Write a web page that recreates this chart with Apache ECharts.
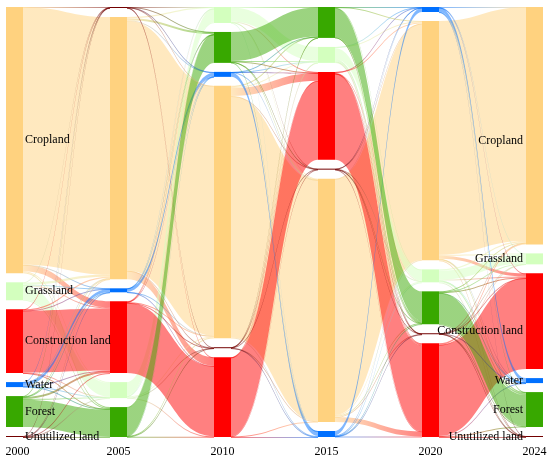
<!DOCTYPE html>
<html>
<head>
<meta charset="utf-8">
<title>Land use transitions 2000-2024</title>
<script src="https://cdn.jsdelivr.net/npm/echarts@6/dist/echarts.min.js"></script>
<style>
    html, body { margin: 0; padding: 0; background: #fff; }
    #chart { width: 550px; height: 461px; }
</style>
</head>
<body>
<div id="chart"></div>
<script>
// land types and years
var categories = ['Cropland', 'Grassland', 'Construction land', 'Water', 'Forest', 'Unutilized land'];
var years = ['2000', '2005', '2010', '2015', '2020', '2024'];

// stacking order of the land types in each year column (top to bottom)
var order2000 = [0, 1, 2, 3, 4, 5];
var order2005 = [5, 0, 3, 2, 1, 4];
var order2010 = [1, 4, 3, 0, 5, 2];
var order2015 = [4, 1, 2, 5, 0, 3];
var order2020 = [3, 0, 1, 4, 5, 2];
var order2024 = [0, 1, 2, 3, 4, 5];

// transition matrices, row = from, column = to
// (Cropland, Grassland, Construction land, Water, Forest, Unutilized land)
var flow2000to2005 = [
    [258.2, 1.0, 6.3, 0.3, 1.0, 0.2],
    [2.3, 13.7, 1.0, 0.2, 0.6, 0.2],
    [1.2, 0.3, 62.1, 0.1, 0.2, 0.1],
    [0.4, 0.2, 0.5, 3.1, 0.7, 0.1],
    [0.6, 0.7, 2.0, 0.2, 27.4, 0.1],
    [0.3, 0.1, 0.1, 0.1, 0.1, 0.3]
];
var flow2005to2010 = [
    [250.3, 1.2, 8.5, 0.8, 2.0, 0.2],
    [1.0, 13.6, 0.4, 0.3, 0.6, 0.1],
    [0.8, 0.3, 70.4, 0.2, 0.1, 0.2],
    [0.2, 0.1, 0.2, 3.4, 0.1, 0],
    [0.6, 0.7, 0.3, 0.2, 28.1, 0.1],
    [0.1, 0.1, 0.2, 0.1, 0.1, 0.4]
];
var flow2010to2015 = [
    [241.9, 1.0, 7.9, 0.8, 1.2, 0.2],
    [0.8, 14.0, 0.5, 0.1, 0.5, 0.1],
    [0.6, 0.2, 78.9, 0.1, 0.1, 0.1],
    [0.2, 0.1, 0.1, 4.5, 0.1, 0],
    [0.4, 0.6, 0.5, 0.4, 29.0, 0.1],
    [0.1, 0.1, 0.1, 0.1, 0.1, 0.5]
];
var flow2015to2020 = [
    [236.7, 0.8, 5.0, 0.3, 1.0, 0.2],
    [1.0, 11.1, 1.4, 0.1, 2.3, 0.1],
    [1.0, 0.3, 86.2, 0.2, 0.2, 0.1],
    [0.6, 0.2, 0.6, 4.2, 0.3, 0.1],
    [0.6, 0.5, 0.6, 0.1, 29.1, 0.1],
    [0.1, 0.1, 0.2, 0.1, 0.1, 0.4]
];
var flow2020to2024 = [
    [234.4, 1.0, 3.0, 0.3, 1.1, 0.2],
    [1.2, 9.1, 0.8, 0.1, 1.7, 0.1],
    [1.5, 0.3, 91.3, 0.2, 0.6, 0.1],
    [0.3, 0.1, 0.2, 4.1, 0.2, 0.1],
    [0.5, 0.4, 0.6, 0.2, 31.2, 0.1],
    [0.1, 0.1, 0.1, 0.1, 0.2, 0.4]
];

var colors = ['#FFD27F', '#D3FFBE', '#FF0000', '#0070FF', '#38A800', '#730000'];

// the last column's labels sit a little low in the original for two types
var lastLabelShift = [15, 0, 10, 0, 0, 0];

var orders = [order2000, order2005, order2010, order2015, order2020, order2024];
var flows = [flow2000to2005, flow2005to2010, flow2010to2015, flow2015to2020, flow2020to2024];

var labelFamily = '"Liberation Serif", "Times New Roman", serif';

function nodeName(cat, year) {
    return categories[cat] + ' ' + year;
}

var nodes = [];
for (var d = 0; d < years.length; d++) {
    for (var i = 0; i < orders[d].length; i++) {
        var c = orders[d][i];
        var node = {
            name: nodeName(c, years[d]),
            depth: d,
            itemStyle: { color: colors[c], borderWidth: 0 },
            label: { show: false }
        };
        if (d == 0 || d == years.length - 1) {
            node.label = {
                show: true,
                position: d == 0 ? 'right' : 'left',
                distance: d == 0 ? 2 : 3,
                offset: [0, d == 0 ? 0 : lastLabelShift[c]],
                formatter: categories[c],
                color: '#000',
                fontFamily: labelFamily,
                fontSize: 12
            };
        }
        nodes.push(node);
    }
}

var links = [];
for (var t = 0; t < flows.length; t++) {
    for (var a = 0; a < flows[t].length; a++) {
        for (var b = 0; b < flows[t][a].length; b++) {
            if (flows[t][a][b] > 0) {
                links.push({
                    source: nodeName(a, years[t]),
                    target: nodeName(b, years[t + 1]),
                    value: flows[t][a][b]
                });
            }
        }
    }
}

var chartW = 550;
var padLeft = 6, padRight = 7, padTop = 7, padBottom = 24;
var nodeW = 17;

// year captions under each column
var step = (chartW - padLeft - padRight - nodeW) / (years.length - 1);
var yearTexts = [];
for (var k = 0; k < years.length; k++) {
    yearTexts.push({
        type: 'text',
        x: padLeft + k * step + nodeW / 2 + (k == 0 ? 3 : 0),
        y: 452,
        style: {
            text: years[k],
            align: 'center',
            verticalAlign: 'middle',
            fill: '#000',
            font: '12px ' + labelFamily
        }
    });
}

var myChart = echarts.init(document.getElementById('chart'));
var option = {
    backgroundColor: '#fff',
    animation: false,
    graphic: yearTexts,
    series: [{
        type: 'sankey',
        left: padLeft,
        right: padRight,
        top: padTop,
        bottom: padBottom,
        nodeWidth: nodeW,
        nodeGap: 9,
        layoutIterations: 0,
        draggable: false,
        emphasis: { disabled: true },
        data: nodes,
        links: links,
        lineStyle: {
            color: 'gradient',
            opacity: 0.5,
            curveness: 0.5
        }
    }]
};
myChart.setOption(option);
</script>
</body>
</html>
